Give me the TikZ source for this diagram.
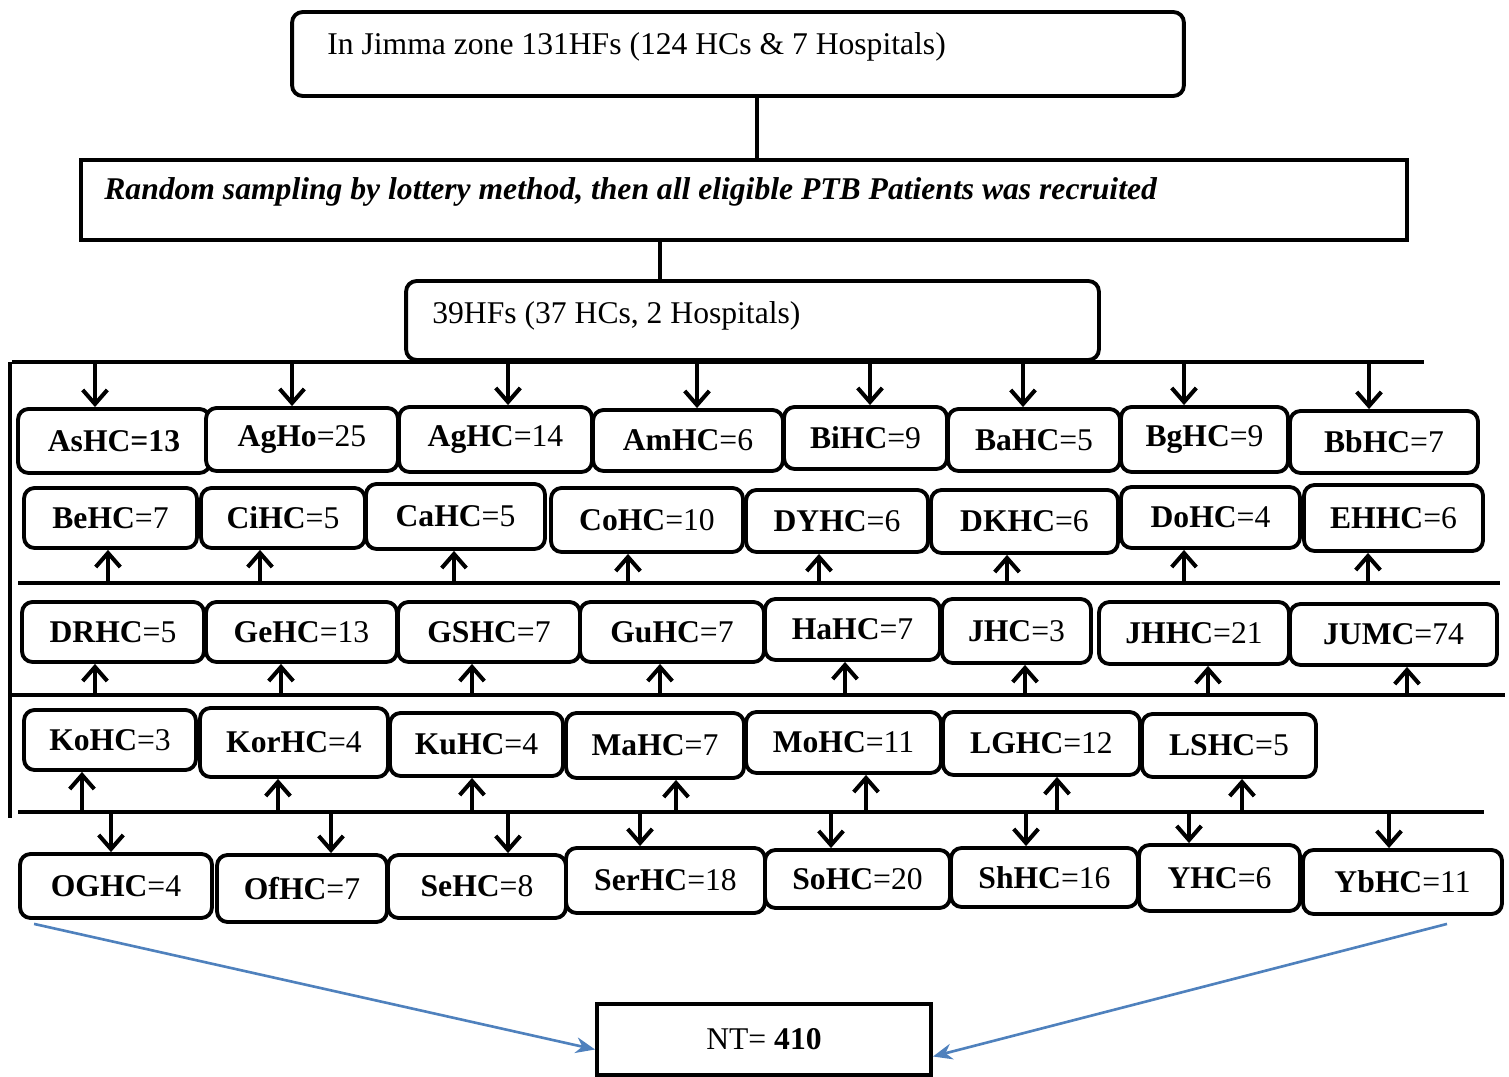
\documentclass[tikz,border=0pt]{standalone}
\usepackage{fontspec}
\setmainfont{Liberation Serif}
\usetikzlibrary{arrows.meta,calc}
\definecolor{nblue}{RGB}{79,129,189}
\tikzset{
    hf/.style={draw, line width=2.2pt, rounded corners=6pt, fill=white, inner sep=0pt, font=\fontsize{18}{21}\selectfont},
    txt/.style={inner sep=0pt, font=\fontsize{18}{21}\selectfont},
    bar/.style={line width=2.4pt},
    arr/.style={line width=2.3pt, -{Straight Barb[length=8pt,width=14pt]}},
    sumarr/.style={draw=nblue, line width=1.5pt, -{Stealth[length=11pt,width=9pt]}}
}

\begin{document}
\begin{tikzpicture}[x=0.02cm, y=-0.02cm]
    \useasboundingbox (0,0) rectangle (1509,1077);
    \node[hf, minimum width=892*0.2mm, minimum height=84*0.2mm] (zone) at (738,54) {};
    \node[txt, anchor=west] (zonetxt) at (327,47) {In Jimma zone 131HFs (124 HCs \& 7 Hospitals)};
    \node[hf, sharp corners, minimum width=1326*0.2mm, minimum height=80*0.2mm] (rand) at (744,200) {};
    \node[txt, anchor=west] (randtxt) at (104,192) {\textbf{\textit{Random sampling by lottery method, then all eligible PTB Patients was recruited}}};
    \node[hf, minimum width=693*0.2mm, minimum height=79*0.2mm] (hfs) at (752.5,320.5) {};
    \node[txt, anchor=west] (hfstxt) at (432,316) {39HFs (37 HCs, 2 Hospitals)};
    \draw[bar] (757,0 |- zone.south) -- (757,0 |- rand.north);
    \draw[bar] (660,0 |- rand.south) -- (660,0 |- hfs.north);

    \coordinate (bus1) at (0,362);
    \coordinate (bus2) at (0,583);
    \coordinate (bus3) at (0,695);
    \coordinate (bus4) at (0,812);
    \draw[bar] (12,0 |- bus1) -- (1424,0 |- bus1);
    \draw[bar] (18,0 |- bus2) -- (1500,0 |- bus2);
    \draw[bar] (12,0 |- bus3) -- (1505,0 |- bus3);
    \draw[bar] (18,0 |- bus4) -- (1484,0 |- bus4);
    \draw[bar] (10,0 |- bus1) -- (10,818);

    \foreach \n/\x/\y/\w/\h/\ax/\t in {
        as/114/441/192/64/95/\textbf{AsHC=13},
        agho/302/439.5/192/63/292/\textbf{AgHo}=25,
        aghc/495.5/439.5/193/65/508/\textbf{AgHC}=14,
        am/688/440.5/190/61/697/\textbf{AmHC}=6,
        bi/865.5/438/163/62/870/\textbf{BiHC}=9,
        ba/1034/440/172/62/1023/\textbf{BaHC}=5,
        bg/1204.5/439.5/167/65/1184/\textbf{BgHC}=9,
        bb/1384/442/188/62/1369/\textbf{BbHC}=7}{
        \node[hf, minimum width=\w*0.2mm, minimum height=\h*0.2mm] (\n) at (\x,\y) {\t};
        \draw[arr] (\ax,0 |- bus1) -- (\ax,0 |- \n.north);
    }
    \foreach \n/\x/\y/\w/\h/\ax/\t in {
        be/110.5/518/173/60/108/\textbf{BeHC}=7,
        ci/283/518/164/60/260/\textbf{CiHC}=5,
        ca/455.5/516.5/179/65/454/\textbf{CaHC}=5,
        co/647/520/192/64/628/\textbf{CoHC}=10,
        dy/837/521/182/62/819/\textbf{DYHC}=6,
        dk/1024.5/521.5/187/63/1007/\textbf{DKHC}=6,
        do/1210.5/517.5/179/61/1184/\textbf{DoHC}=4,
        eh/1393.5/518/179/66/1368/\textbf{EHHC}=6}{
        \node[hf, minimum width=\w*0.2mm, minimum height=\h*0.2mm] (\n) at (\x,\y) {\t};
        \draw[arr] (\ax,0 |- bus2) -- (\ax,0 |- \n.south);
    }
    \foreach \n/\x/\y/\w/\h/\ax/\t in {
        dr/113/632/182/60/95/\textbf{DRHC}=5,
        ge/301.5/632/191/60/281/\textbf{GeHC}=13,
        gs/489/632/182/60/472/\textbf{GSHC}=7,
        gu/672/632/184/60/660/\textbf{GuHC}=7,
        ha/852.5/629.5/175/61/845/\textbf{HaHC}=7,
        j/1016.5/631/149/64/1025/\textbf{JHC}=3,
        jh/1194/633/190/62/1208/\textbf{JHHC}=21,
        ju/1393.5/634.5/207/61/1407/\textbf{JUMC}=74}{
        \node[hf, minimum width=\w*0.2mm, minimum height=\h*0.2mm] (\n) at (\x,\y) {\t};
        \draw[arr] (\ax,0 |- bus3) -- (\ax,0 |- \n.south);
    }
    \foreach \n/\x/\y/\w/\h/\ax/\t in {
        ko/110/740/172/60/82/\textbf{KoHC}=3,
        kor/294/742.5/188/69/278/\textbf{KorHC}=4,
        ku/476.5/744.5/173/63/472/\textbf{KuHC}=4,
        ma/655/745.5/178/65/676/\textbf{MaHC}=7,
        mo/843.5/742.5/195/61/866/\textbf{MoHC}=11,
        lg/1041.5/743.5/197/63/1057/\textbf{LGHC}=12,
        ls/1229/745.5/174/63/1242/\textbf{LSHC}=5}{
        \node[hf, minimum width=\w*0.2mm, minimum height=\h*0.2mm] (\n) at (\x,\y) {\t};
        \draw[arr] (\ax,0 |- bus4) -- (\ax,0 |- \n.south);
    }
    \foreach \n/\x/\y/\w/\h/\ax/\t in {
        og/116/886/192/64/111/\textbf{OGHC}=4,
        of/302/888.5/170/67/331/\textbf{OfHC}=7,
        se/477/886.5/178/63/508/\textbf{SeHC}=8,
        ser/665.5/880.5/199/65/640/\textbf{SerHC}=18,
        so/857.5/879/185/58/831/\textbf{SoHC}=20,
        sh/1044.5/877.5/187/59/1026/\textbf{ShHC}=16,
        y/1219.5/878/161/66/1189/\textbf{YHC}=6,
        yb/1402.5/882/199/64/1389/\textbf{YbHC}=11}{
        \node[hf, minimum width=\w*0.2mm, minimum height=\h*0.2mm] (\n) at (\x,\y) {\t};
        \draw[arr] (\ax,0 |- bus4) -- (\ax,0 |- \n.north);
    }

    \node[hf, sharp corners, minimum width=334*0.2mm, minimum height=71*0.2mm] (nt) at (764,1039.5) {NT= \textbf{410}};
    \draw[sumarr] ($(og.south west)+(16,4)$) -- ($(nt.west)+(0,10)$);
    \draw[sumarr] ($(yb.south)+(44.5,8)$) -- ($(nt.east)+(0,17)$);
\end{tikzpicture}
\end{document}
